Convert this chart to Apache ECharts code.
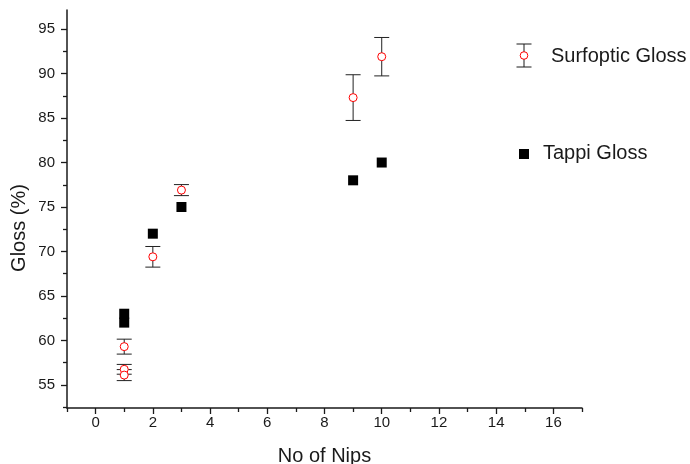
<!DOCTYPE html>
<html>
<head>
<meta charset="utf-8">
<script src="https://cdn.jsdelivr.net/npm/echarts@6/dist/echarts.min.js"></script>
<style>
  html, body { margin: 0; padding: 0; background: #fff; }
  #chart { width: 690px; height: 464px; }
</style>
</head>
<body>
<div id="chart"></div>
<script>
// data
var surfNips = [1, 1, 1, 2, 3, 9, 10];
var surfGloss = [59.3, 56.75, 56.1, 69.4, 76.9, 87.3, 91.9];
var surfErr = [0.84, 0.55, 0.62, 1.16, 0.62, 2.57, 2.16];

var tappiNips = [1, 1, 2, 3, 9, 10];
var tappiGloss = [63, 62, 72, 75, 78, 80];

var xMajor = [0, 2, 4, 6, 8, 10, 12, 14, 16];
var xMinor = [-1, 1, 3, 5, 7, 9, 11, 13, 15, 17];
var yMajor = [55, 60, 65, 70, 75, 80, 85, 90, 95];
var yMinor = [52.5, 57.5, 62.5, 67.5, 72.5, 77.5, 82.5, 87.5, 92.5];

var FONT = 'Liberation Sans, Arial, sans-serif';
var INK = '#1a1a1a';

var chart = echarts.init(document.getElementById('chart'));

var surfData = surfNips.map(function (x, i) { return [x, surfGloss[i], surfErr[i]]; });
var tappiData = tappiNips.map(function (x, i) { return [x, tappiGloss[i]]; });

function axisBase(min, max) {
  return {
    type: 'value',
    min: min,
    max: max,
    splitLine: { show: false }
  };
}

var xMain = axisBase(-1, 17);
xMain.position = 'bottom';
xMain.name = 'No of Nips';
xMain.nameLocation = 'middle';
xMain.nameGap = 38;
xMain.nameTextStyle = { fontFamily: FONT, fontSize: 20, color: INK };
xMain.axisLine = { show: true, onZero: false, lineStyle: { color: INK, width: 1.5 } };
xMain.axisTick = { show: true, length: 6, customValues: xMajor, lineStyle: { color: INK, width: 1.3 } };
xMain.axisLabel = { customValues: xMajor, margin: 7, fontFamily: FONT, fontSize: 15, color: INK };

var xMinorAxis = axisBase(-1, 17);
xMinorAxis.position = 'bottom';
xMinorAxis.axisLine = { show: false, onZero: false };
xMinorAxis.axisTick = { show: true, length: 4, customValues: xMinor, lineStyle: { color: INK, width: 1.3 } };
xMinorAxis.axisLabel = { show: false };

var yMain = axisBase(52.4, 97.15);
yMain.position = 'left';
yMain.axisLine = { show: true, onZero: false, lineStyle: { color: INK, width: 1.5 } };
yMain.axisTick = { show: true, length: 6, customValues: yMajor, lineStyle: { color: INK, width: 1.3 } };
yMain.axisLabel = { customValues: yMajor, margin: 12, fontFamily: FONT, fontSize: 15, color: INK };

var yMinorAxis = axisBase(52.4, 97.15);
yMinorAxis.position = 'left';
yMinorAxis.axisLine = { show: false, onZero: false };
yMinorAxis.axisTick = { show: true, length: 4, customValues: yMinor, lineStyle: { color: INK, width: 1.3 } };
yMinorAxis.axisLabel = { show: false };

var option = {
  backgroundColor: '#fff',
  animation: false,
  grid: { left: 67, right: 108, top: 10, bottom: 56, outerBoundsMode: 'none', containLabel: false },
  xAxis: [xMain, xMinorAxis],
  yAxis: [yMain, yMinorAxis],
  graphic: [
    {
      type: 'text',
      x: 19, y: 228,
      rotation: Math.PI / 2,
      style: { text: 'Gloss (%)', fontFamily: FONT, fontSize: 20, fill: INK, align: 'center', verticalAlign: 'middle' }
    },
    // legend: Surfoptic Gloss
    { type: 'line', shape: { x1: 524, y1: 44, x2: 524, y2: 67 }, style: { stroke: INK, lineWidth: 1 } },
    { type: 'line', shape: { x1: 516.5, y1: 44, x2: 531.5, y2: 44 }, style: { stroke: INK, lineWidth: 1 } },
    { type: 'line', shape: { x1: 516.5, y1: 67, x2: 531.5, y2: 67 }, style: { stroke: INK, lineWidth: 1 } },
    { type: 'circle', shape: { cx: 524, cy: 55.5, r: 3.8 }, style: { fill: '#fff', stroke: '#ff0000', lineWidth: 1 } },
    {
      type: 'text', x: 551, y: 56,
      style: { text: 'Surfoptic Gloss', fontFamily: FONT, fontSize: 20, fill: INK, verticalAlign: 'middle' }
    },
    // legend: Tappi Gloss
    { type: 'rect', shape: { x: 519, y: 149, width: 10, height: 10 }, style: { fill: '#000' } },
    {
      type: 'text', x: 543, y: 153,
      style: { text: 'Tappi Gloss', fontFamily: FONT, fontSize: 20, fill: INK, verticalAlign: 'middle' }
    }
  ],
  series: [
    {
      name: 'Surfoptic error',
      type: 'custom',
      xAxisIndex: 0,
      yAxisIndex: 0,
      data: surfData,
      z: 2,
      renderItem: function (params, api) {
        var x = api.value(0);
        var hi = api.coord([x, api.value(1) + api.value(2)]);
        var lo = api.coord([x, api.value(1) - api.value(2)]);
        var half = 7.5;
        var st = { stroke: '#222', lineWidth: 1 };
        return {
          type: 'group',
          children: [
            { type: 'line', shape: { x1: hi[0], y1: hi[1], x2: lo[0], y2: lo[1] }, style: st },
            { type: 'line', shape: { x1: hi[0] - half, y1: hi[1], x2: hi[0] + half, y2: hi[1] }, style: st },
            { type: 'line', shape: { x1: lo[0] - half, y1: lo[1], x2: lo[0] + half, y2: lo[1] }, style: st }
          ]
        };
      }
    },
    {
      name: 'Tappi Gloss',
      type: 'scatter',
      xAxisIndex: 0,
      yAxisIndex: 0,
      data: tappiData,
      symbol: 'rect',
      symbolSize: 10,
      itemStyle: { color: '#000', opacity: 1 },
      z: 3
    },
    {
      name: 'Surfoptic Gloss',
      type: 'scatter',
      xAxisIndex: 0,
      yAxisIndex: 0,
      data: surfData,
      symbol: 'circle',
      symbolSize: 8,
      itemStyle: { color: '#fff', borderColor: '#ff0000', borderWidth: 1, opacity: 1 },
      z: 4
    }
  ]
};

chart.setOption(option);
</script>
</body>
</html>
